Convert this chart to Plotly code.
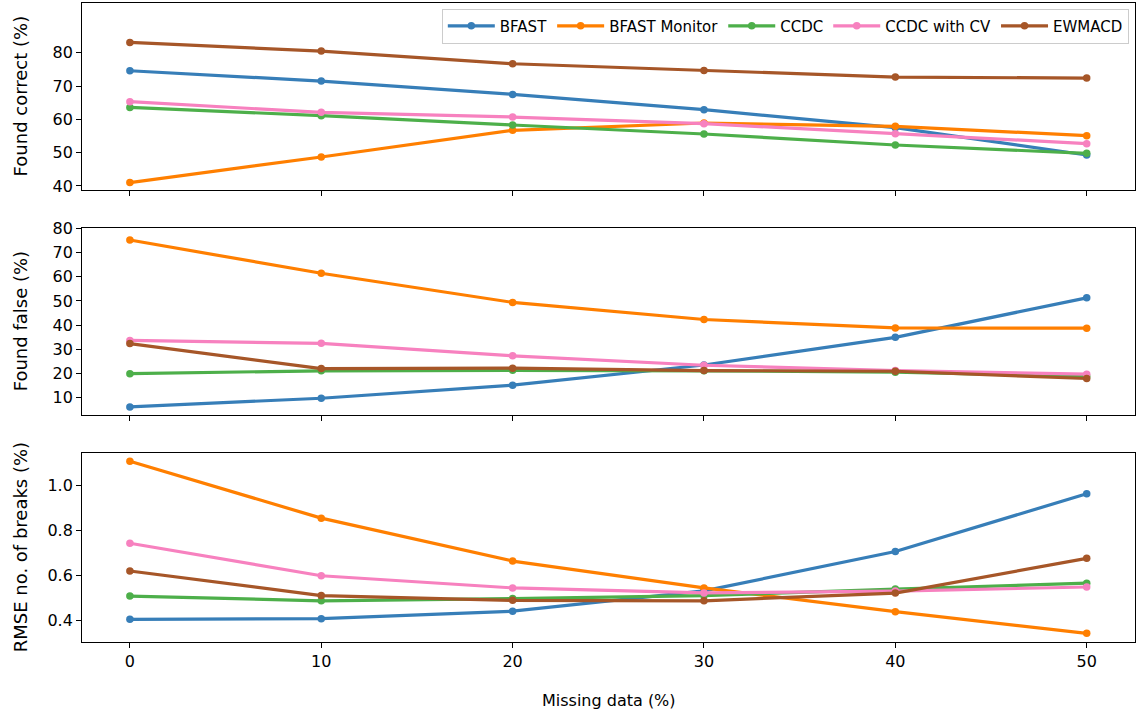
import plotly.graph_objects as go

missing = [0, 10, 20, 30, 40, 50]
methods = ["BFAST", "BFAST Monitor", "CCDC", "CCDC with CV", "EWMACD"]
colors = ["#377eb8", "#ff7f00", "#4daf4a", "#f781bf", "#a65628"]

found_correct = {
    "BFAST": [74.6, 71.5, 67.5, 62.9, 57.5, 49.3],
    "BFAST Monitor": [41.0, 48.7, 56.7, 58.9, 57.9, 55.1],
    "CCDC": [63.6, 61.1, 58.3, 55.6, 52.3, 49.8],
    "CCDC with CV": [65.3, 62.1, 60.7, 58.7, 55.7, 52.7],
    "EWMACD": [83.1, 80.5, 76.7, 74.7, 72.7, 72.4],
}
found_false = {
    "BFAST": [6.0, 9.6, 15.0, 23.4, 34.9, 51.3],
    "BFAST Monitor": [75.3, 61.5, 49.4, 42.3, 38.8, 38.7],
    "CCDC": [19.8, 21.0, 21.2, 21.0, 20.4, 18.6],
    "CCDC with CV": [33.6, 32.4, 27.2, 23.3, 21.1, 19.6],
    "EWMACD": [32.3, 21.9, 22.1, 21.1, 20.8, 17.8],
}
rmse_breaks = {
    "BFAST": [0.407, 0.410, 0.443, 0.533, 0.707, 0.963],
    "BFAST Monitor": [1.107, 0.855, 0.665, 0.546, 0.441, 0.345],
    "CCDC": [0.510, 0.489, 0.499, 0.512, 0.541, 0.567],
    "CCDC with CV": [0.744, 0.600, 0.546, 0.524, 0.532, 0.550],
    "EWMACD": [0.621, 0.512, 0.491, 0.489, 0.523, 0.677],
}

panels = [
    ("y", found_correct, "Found correct (%)"),
    ("y2", found_false, "Found false (%)"),
    ("y3", rmse_breaks, "RMSE no. of breaks (%)"),
]

fig = go.Figure()
for yref, data, _ in panels:
    for m, c in zip(methods, colors):
        fig.add_trace(go.Scatter(
            x=missing, y=data[m], mode="lines+markers", name=m,
            line=dict(color=c, width=3.2), marker=dict(color=c, size=7.5),
            xaxis="x" if yref == "y" else ("x2" if yref == "y2" else "x3"),
            yaxis=yref, showlegend=(yref == "y"),
        ))

font_family = "DejaVu Sans"
axis_common = dict(showline=True, mirror=True, linecolor="black", linewidth=1,
                   ticks="outside", ticklen=5, tickcolor="black", showgrid=False,
                   zeroline=False, automargin=False,
                   tickfont=dict(family=font_family, size=16, color="black"))
xr = [-2.5, 52.5]
xdom = [0.0716, 0.990]
fig.update_layout(
    width=1146, height=714, margin=dict(l=0, r=0, t=0, b=0, pad=0, autoexpand=False),
    plot_bgcolor="white", paper_bgcolor="white",
    font=dict(family=font_family, color="black"),
    xaxis=dict(domain=xdom, range=xr, anchor="y", tickvals=missing, showticklabels=False, **axis_common),
    xaxis2=dict(domain=xdom, range=xr, anchor="y2", tickvals=missing, showticklabels=False, **axis_common),
    xaxis3=dict(domain=xdom, range=xr, anchor="y3", tickvals=missing, **axis_common),
    yaxis=dict(domain=[0.734, 0.996], range=[38.8, 95], tickvals=[40, 50, 60, 70, 80], **axis_common),
    yaxis2=dict(domain=[0.419, 0.681], range=[2.7, 80.4], tickvals=[10, 20, 30, 40, 50, 60, 70, 80], **axis_common),
    yaxis3=dict(domain=[0.101, 0.366], range=[0.307, 1.145], tickvals=[0.4, 0.6, 0.8, 1.0],
                tickformat=".1f", **axis_common),
    legend=dict(orientation="h", x=0.985, xanchor="right", y=0.988, yanchor="top",
                bgcolor="white", bordercolor="#cccccc", borderwidth=1,
                font=dict(family=font_family, size=15, color="black"),
                itemwidth=47),
)

ycenters = [(0.734 + 0.996) / 2, (0.419 + 0.681) / 2, (0.101 + 0.366) / 2]
for (_, _, title), yc in zip(panels, ycenters):
    fig.add_annotation(text=title, xref="paper", yref="paper", x=20 / 1146, y=yc,
                       xanchor="center", yanchor="middle",
                       textangle=-90, showarrow=False,
                       font=dict(family=font_family, size=18, color="black"))
fig.add_annotation(text="Missing data (%)", xref="paper", yref="paper", x=(82 + 1135) / 2 / 1146,
                   y=1 - 700 / 714, xanchor="center", yanchor="middle", showarrow=False,
                   font=dict(family=font_family, size=16, color="black"))

fig.write_html("out.html")
